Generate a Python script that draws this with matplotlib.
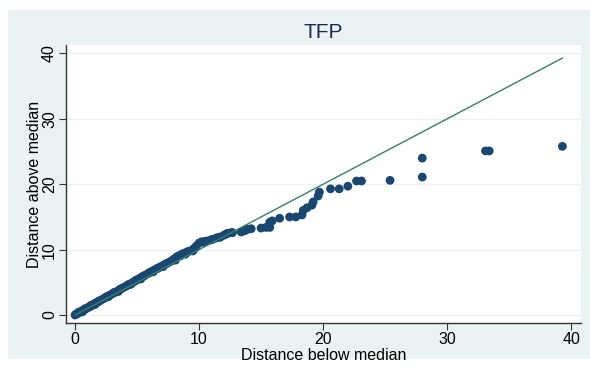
import matplotlib
matplotlib.use("Agg")
import matplotlib.pyplot as plt
from matplotlib.patches import Rectangle

plt.rcParams['font.family'] = ['Liberation Sans', 'DejaVu Sans']

title = "TFP"
xlabel = "Distance below median"
ylabel = "Distance above median"
ticks = [0, 10, 20, 30, 40]

below_median = [
    0.0, 0.1, 0.2, 0.3, 0.4, 0.5, 0.6, 0.7, 0.8, 0.9, 1.0, 1.1, 1.2, 1.3, 1.4,
    1.5, 1.6, 1.7, 1.8, 1.9, 2.0, 2.2, 2.4, 2.6, 2.8, 3.0, 3.2, 3.4, 3.6, 3.8,
    4.0, 4.2, 4.4, 4.6, 4.8, 5.0, 5.2, 5.4, 5.6, 5.8, 6.0, 6.2, 6.4, 6.6, 6.8,
    7.0, 7.2, 7.4, 7.6, 7.8, 8.0, 8.2, 8.4, 8.6, 8.8, 9.0, 9.2, 9.4, 9.6, 9.8,
    10.0, 10.2, 10.5, 10.8, 11.1, 11.4, 11.7, 12.0, 12.3, 12.6,
    0.3, 0.8, 1.3, 1.9, 2.5, 3.1, 3.7, 4.3, 4.9, 5.5, 6.1, 6.7, 7.3, 7.9,
    8.5, 9.1, 9.7,
    0.6, 1.6, 2.7, 3.5, 4.5, 5.3, 6.3, 7.1, 8.1, 8.9, 9.5, 10.4, 11.0, 11.6,
    12.2,
    12.7, 13.4, 13.7, 13.9, 14.2, 15.0, 15.4, 15.7, 15.9, 15.7, 16.5, 17.3,
    17.8, 18.3, 18.4, 18.7, 19.1, 19.2, 19.6, 19.7, 20.6, 21.3, 22.0, 22.7,
    23.1, 25.4, 28.0, 28.0, 33.1, 33.4, 39.3,
]
above_median = [
    0.0, 0.15, 0.25, 0.35, 0.45, 0.55, 0.65, 0.8, 0.9, 1.0, 1.1, 1.2, 1.3, 1.4, 1.5,
    1.65, 1.75, 1.85, 1.95, 2.05, 2.2, 2.4, 2.6, 2.85, 3.05, 3.25, 3.45, 3.65, 3.9, 4.1,
    4.3, 4.5, 4.7, 4.95, 5.15, 5.4, 5.6, 5.85, 6.05, 6.25, 6.5, 6.7, 6.9, 7.1, 7.3,
    7.5, 7.7, 7.9, 8.1, 8.3, 8.6, 8.9, 9.1, 9.3, 9.45, 9.6, 9.75, 9.9, 10.2, 10.6,
    11.0, 11.2, 11.3, 11.4, 11.6, 11.8, 11.9, 12.2, 12.5, 12.6,
    0.45, 0.95, 1.5, 2.1, 2.75, 3.4, 4.0, 4.65, 5.3, 5.9, 6.55, 7.15, 7.8, 8.4,
    9.05, 9.7, 10.3,
    0.5, 1.6, 2.8, 3.6, 4.7, 5.5, 6.6, 7.4, 8.4, 9.3, 9.8, 11.1, 11.5, 11.9,
    12.4,
    12.6, 12.7, 12.9, 13.1, 13.2, 13.3, 13.4, 13.4, 14.4, 14.2, 14.8, 15.0,
    15.0, 15.3, 16.0, 16.4, 16.8, 17.3, 18.2, 18.8, 19.3, 19.3, 19.7, 20.5,
    20.5, 20.6, 21.1, 24.0, 25.1, 25.1, 25.8,
]
ref_line = [0.0, 39.3]

W, H = 590, 365
fig = plt.figure(figsize=(W / 100, H / 100), dpi=100)
fig.patch.set_facecolor("white")
fig.add_artist(Rectangle((7.5 / W, 6 / H), 1 - 7.5 / W, (365 - 10 - 6) / H,
                         transform=fig.transFigure, facecolor="#EAF2F3",
                         edgecolor="none", zorder=0))

ax = fig.add_axes([66 / W, 1 - 323 / H, (581 - 66) / W, (323 - 45) / H])
ax.set_facecolor("white")
ax.set_xlim(-0.73, 40.8)
ax.set_ylim(-1.22, 41.3)

for t in ticks:
    ax.axhline(t, color="#EAF2F3", lw=1.0, zorder=1)

ax.plot(ref_line, ref_line, color="#3A7D6E", lw=1.0, zorder=3)
ax.scatter(below_median, above_median, s=40, color="#1A476F",
           edgecolors="none", zorder=2)

ax.set_xticks(ticks)
ax.set_yticks(ticks)
ax.set_xticklabels([str(t) for t in ticks], fontsize=11.5)
ax.set_yticklabels([str(t) for t in ticks], fontsize=11.5, rotation=90, va="center")
ax.tick_params(axis="both", direction="out", length=5, width=0.8, color="#333333",
               pad=1.5)
for s in ["top", "right"]:
    ax.spines[s].set_visible(False)
for s in ["left", "bottom"]:
    ax.spines[s].set_color("#333333")
    ax.spines[s].set_linewidth(1.0)

ax.set_xlabel(xlabel, fontsize=11.5, labelpad=0.5)
ax.set_ylabel(ylabel, fontsize=11.5, labelpad=0)
fig.text(0.5 * (66 + 581) / W, 1 - 33 / H, title, fontsize=15, color="#1E2D4F",
         ha="center", va="center")

fig.savefig("out.png", dpi=100)
